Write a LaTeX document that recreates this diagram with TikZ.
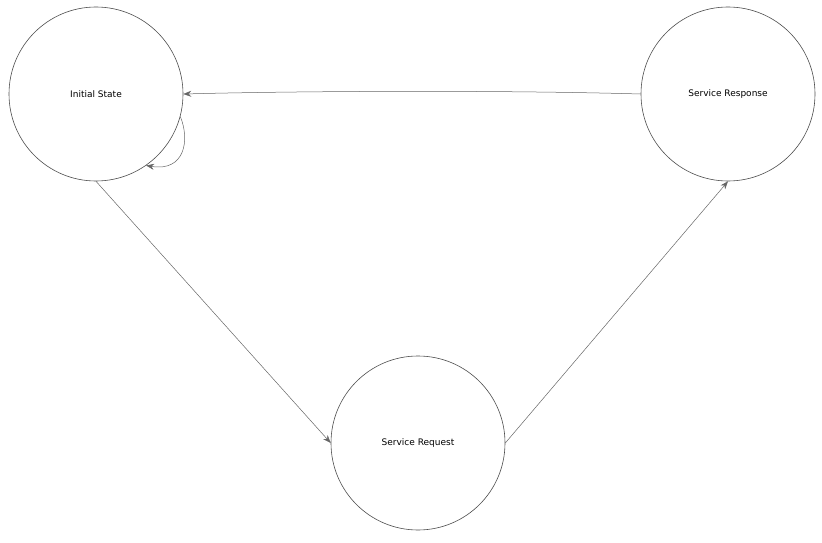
\documentclass[tikz,border=0pt]{standalone}
\usepackage{fontspec}
\setmainfont{DejaVu Sans}
\usetikzlibrary{arrows.meta}
\begin{document}
\begin{tikzpicture}[x=1pt,y=-1pt,
  st/.style={circle,draw=black!70,line width=0.6pt,minimum size=174pt,inner sep=0pt,font=\fontsize{9}{11}\selectfont},
  ar/.style={draw=black!60,line width=0.5pt,-{Stealth[length=8pt,width=6pt]}}]
\useasboundingbox (0,0) rectangle (822,543);
\node[st] (init) at (96,94) {Initial State};
\node[st] (resp) at (728,94) {Service Response};
\node[st] (req) at (418,443) {Service Request};
\draw[ar] (init.-90) -- (req.180);
\draw[ar] (req.0) -- (resp.-90);
\draw[ar] (resp.180) .. controls (500,90) and (300,91) .. (init.0);
\draw[ar] (init.-15) .. controls (190,140) and (185,172) .. (init.-55);
\end{tikzpicture}
\end{document}
